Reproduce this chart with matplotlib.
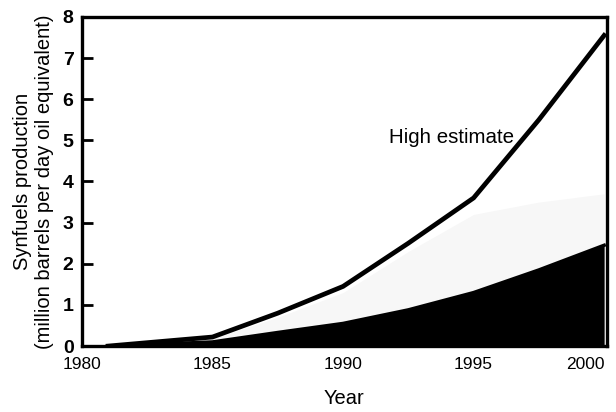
import numpy as np
import matplotlib.pyplot as plt

plt.rcParams['font.family'] = ['Liberation Sans', 'DejaVu Sans']

# --- Dados ---
anos = [1981, 1985, 1987.5, 1990, 1992.5, 1995, 1997.5, 2000]
alta = [0.0, 0.22, 0.8, 1.45, 2.5, 3.6, 5.5, 7.55]
media = [0.0, 0.18, 0.7, 1.3, 2.3, 3.2, 3.5, 3.7]
baixa = [0.0, 0.10, 0.33, 0.55, 0.88, 1.3, 1.85, 2.45]

x_ticks = [1980, 1985, 1990, 1995, 2000]
y_ticks = [0, 1, 2, 3, 4, 5, 6, 7, 8]

fig = plt.figure(figsize=(6.16, 4.12), dpi=100)
ax = fig.add_axes([0.133, 0.160, 0.852, 0.799])

# região pontilhada (muito clara no original)
ax.fill_between(anos, baixa, media, color='#f7f7f7', linewidth=0, zorder=1)
# estimativa baixa (preenchida de preto)
ax.fill_between(anos, 0, baixa, color='black', linewidth=0, zorder=2)
ax.plot(anos, baixa, color='black', linewidth=2.5, zorder=3)
# estimativa alta
ax.plot(anos, alta, color='black', linewidth=3.4, solid_joinstyle='miter', zorder=4)

ax.text(1991.75, 5.08, 'High estimate', fontsize=14.8, va='center', ha='left')

ax.set_xlim(1980, 2000.1)
ax.set_ylim(0, 8)
ax.set_xticks(x_ticks)
ax.set_yticks(y_ticks)
ax.tick_params(axis='x', length=0, pad=8, labelsize=12.5)
ax.tick_params(axis='y', direction='in', length=8, width=2, pad=6, labelsize=14)
for rotulo in ax.get_yticklabels():
    rotulo.set_fontweight('bold')
# o último rótulo do eixo x fica encostado à direita, como no original
ax.get_xticklabels()[-1].set_horizontalalignment('right')
for lado in ax.spines.values():
    lado.set_linewidth(2.4)

ax.set_xlabel('Year', fontsize=14.5, labelpad=12)
ax.set_ylabel('Synfuels production\n(million barrels per day oil equivalent)',
              fontsize=14.5, labelpad=6, linespacing=1.2)

plt.savefig('out.png', dpi=100)
